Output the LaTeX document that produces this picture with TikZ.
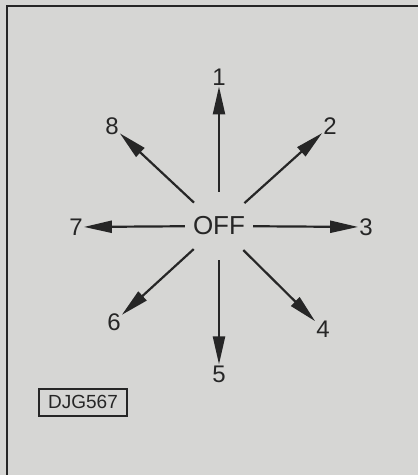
\documentclass[tikz,border=0pt]{standalone}
\usepackage{fontspec}
\setmainfont{Liberation Sans}
\usetikzlibrary{arrows.meta,positioning}
\definecolor{paper}{RGB}{214,214,212}
\definecolor{ink}{RGB}{38,38,38}

\begin{document}
\begin{tikzpicture}[
    x=1pt, y=-1pt,
    font=\fontsize{24}{28}\selectfont,
    hub/.style={
        circle,
        minimum size=68pt,
        inner sep=0pt,
        text=ink,
        font=\fontsize{26}{30}\selectfont
    },
    numlabel/.style={
        inner sep=1pt,
        text=ink
    },
    tag/.style={
        rectangle,
        draw=ink,
        line width=2pt,
        minimum width=88pt,
        minimum height=27pt,
        inner sep=2pt,
        text=ink,
        font=\fontsize{19}{21}\selectfont
    },
    flow/.style={-{Triangle[length=28pt,width=12pt]}, line width=2.2pt, draw=ink}
]

\useasboundingbox (0,0) rectangle (418,475);
\fill[paper] (0,0) rectangle (418,475);
\draw[ink, line width=2.5pt] (7,475) -- (7,6) -- (418,6);

\node[hub] (off) at (219,226) {OFF};

\node[numlabel] (n1) at (219,77) {1};
\node[numlabel] (n2) at (330,126) {2};
\node[numlabel] (n3) at (366,227) {3};
\node[numlabel] (n4) at (323,329) {4};
\node[numlabel] (n5) at (219,374) {5};
\node[numlabel] (n6) at (114,322) {6};
\node[numlabel] (n7) at (76,227) {7};
\node[numlabel] (n8) at (112,126) {8};

\draw[flow] (off) -- (n1);
\draw[flow] (off) -- (n2);
\draw[flow] (off) -- (n3);
\draw[flow] (off) -- (n4);
\draw[flow] (off) -- (n5);
\draw[flow] (off) -- (n6);
\draw[flow] (off) -- (n7);
\draw[flow] (off) -- (n8);

\node[tag] (code) at (83,402) {DJG567};

\end{tikzpicture}
\end{document}
